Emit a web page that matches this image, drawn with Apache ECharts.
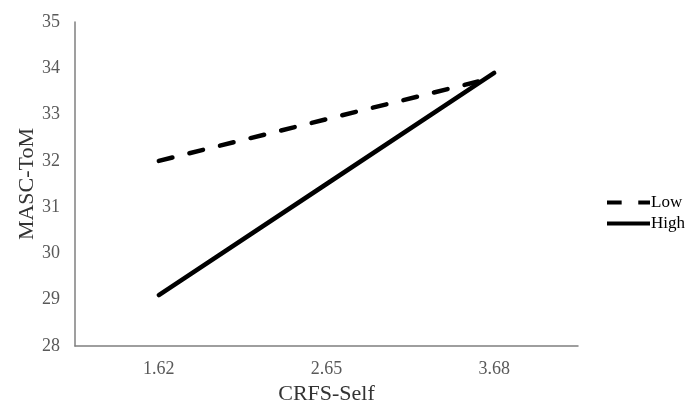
<!DOCTYPE html>
<html>
<head>
<meta charset="utf-8">
<script src="https://cdn.jsdelivr.net/npm/echarts@6/dist/echarts.min.js"></script>
<style>html,body{margin:0;padding:0;background:#fff;}#c{width:689px;height:405px;}</style>
</head>
<body>
<div id="c"></div>
<script>
const categories = ['1.62', '2.65', '3.68'];
const lowValues = [32.0, 32.9, 33.8];
const highValues = [29.1, 31.5, 33.9];
const seriesNames = ['Low', 'High'];
const xTitle = 'CRFS-Self';
const yTitle = 'MASC-ToM';

const chart = echarts.init(document.getElementById('c'), null, {renderer: 'canvas'});
const font = '"Liberation Serif", "Times New Roman", serif';
chart.setOption({
  animation: false,
  backgroundColor: '#ffffff',
  textStyle: {fontFamily: font},
  grid: {left: 75, top: 22, right: 111, bottom: 59, containLabel: false, outerBoundsMode: 'none'},
  legend: {
    orient: 'vertical',
    left: 607,
    top: 194,
    padding: 0,
    itemWidth: 43,
    itemHeight: 14,
    itemGap: 4,
    textStyle: {fontFamily: font, fontSize: 17, color: '#000', padding: [0, 0, 0, -4]},
    data: [
      {name: seriesNames[0], icon: 'path://M0,0h15v4h-15z M32,0h12v4h-12z', itemStyle: {color: '#000'}},
      {name: seriesNames[1], icon: 'path://M0,0h44v4h-44z', itemStyle: {color: '#000'}}
    ]
  },
  xAxis: {
    type: 'category',
    data: categories,
    boundaryGap: true,
    name: xTitle,
    nameLocation: 'middle',
    nameGap: 37,
    nameMoveOverlap: false,
    nameTextStyle: {fontFamily: font, fontSize: 22, color: '#333'},
    axisLine: {show: true, lineStyle: {color: '#7f7f7f', width: 1.5}},
    axisTick: {show: false},
    axisLabel: {fontFamily: font, fontSize: 18, color: '#595959', margin: 14},
    splitLine: {show: false}
  },
  yAxis: {
    type: 'value',
    min: 28,
    max: 35,
    interval: 1,
    name: yTitle,
    nameLocation: 'middle',
    nameGap: 37,
    nameMoveOverlap: false,
    nameTextStyle: {fontFamily: font, fontSize: 22, color: '#333'},
    axisLine: {show: true, lineStyle: {color: '#7f7f7f', width: 1.5}},
    axisTick: {show: false},
    axisLabel: {fontFamily: font, fontSize: 18, color: '#595959', margin: 15},
    splitLine: {show: false}
  },
  series: [
    {
      name: seriesNames[0],
      type: 'line',
      data: lowValues,
      symbol: 'none',
      lineStyle: {color: '#000', width: 4.5, type: [14, 17.5], cap: 'round'},
      itemStyle: {color: '#000'}
    },
    {
      name: seriesNames[1],
      type: 'line',
      data: highValues,
      symbol: 'none',
      lineStyle: {color: '#000', width: 4.5, type: 'solid', cap: 'round'},
      itemStyle: {color: '#000'}
    }
  ]
});
</script>
</body>
</html>
